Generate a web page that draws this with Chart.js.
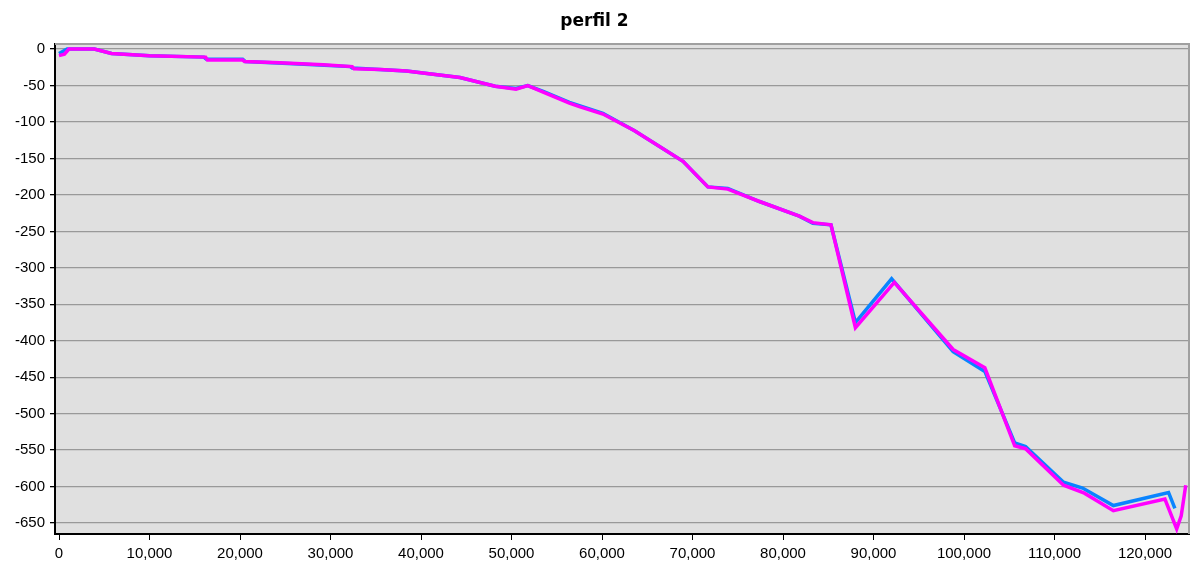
<!DOCTYPE html>
<html>
<head>
<meta charset="utf-8">
<title>perfil 2</title>
<script src="https://cdn.jsdelivr.net/npm/chart.js@4.4.1/dist/chart.umd.min.js"></script>
<style>
  html, body { margin: 0; padding: 0; background: #fff; }
  #wrap { width: 1199px; height: 569px; position: relative; }
</style>
</head>
<body>
<div id="wrap"><canvas id="perfilChart"></canvas></div>
<script>
// distances (m) and depths
const magentaX = [0, 600, 1100, 3900, 5800, 10000, 16200, 16400, 20300, 20500, 24400, 29200, 32400, 32600, 35500, 38400, 44300, 48200, 50500, 51800, 53500, 56400, 57500, 60100, 63600, 68950, 71700, 73900, 77400, 81800, 83300, 85300, 88000, 92300, 98800, 102300, 105600, 106800, 111000, 113300, 116500, 122200, 123500, 124000, 124500];
const magentaY = [-9, -7, 0, 0, -6, -9, -11, -15, -15, -17, -18.7, -21.5, -24, -27, -28, -30, -39, -51, -55, -50, -59, -74, -79, -89, -112, -154, -189, -192, -209, -229, -238, -241, -382, -320, -412, -437, -544, -548, -598, -609, -633, -617, -658, -640, -598];

const blueX = [0, 900, 3900, 5800, 10000, 16000, 16300, 20300, 20600, 26500, 32200, 32400, 38400, 44300, 48200, 50500, 51800, 53500, 56400, 60100, 63600, 68950, 71700, 73900, 77400, 81800, 83300, 85300, 88000, 92000, 98800, 102300, 105600, 106800, 111000, 113100, 116500, 122600, 123300];
const blueY = [-6, 0, 0, -6, -9, -11, -14, -14, -17, -20.5, -24, -26, -30, -39, -51, -54, -50, -58, -73, -88, -112, -154, -189, -191, -209, -229, -239, -241, -375, -315, -415, -442, -540, -545, -594, -602, -626, -608, -630];

const xTicks = [0, 10000, 20000, 30000, 40000, 50000, 60000, 70000, 80000, 90000, 100000, 110000, 120000];
const yTicks = [0, -50, -100, -150, -200, -250, -300, -350, -400, -450, -500, -550, -600, -650];

const toPoints = (xs, ys) => xs.map((x, i) => ({ x: x, y: ys[i] }));

// grey plot background + light frame on top/right
const plotFrame = {
    id: "plotFrame",
    beforeDraw(chart) {
        const { ctx, chartArea: a } = chart;
        ctx.save();
        ctx.fillStyle = "#e0e0e0";
        ctx.fillRect(a.left, a.top, a.right - a.left, a.bottom - a.top);
        ctx.restore();
    },
    beforeDatasetsDraw(chart) {
        const { ctx, chartArea: a } = chart;
        ctx.save();
        ctx.strokeStyle = "#a0a0a0";
        ctx.lineWidth = 2;
        ctx.beginPath();
        ctx.moveTo(a.left, a.top);
        ctx.lineTo(a.right, a.top);
        ctx.lineTo(a.right, a.bottom);
        ctx.stroke();
        ctx.restore();
    }
};

const tickFont = { family: "'Liberation Sans', Arial, sans-serif", size: 15 };

new Chart(document.getElementById("perfilChart"), {
    type: "line",
    data: {
        datasets: [
            {
                label: "perfil 2 (b)",
                data: toPoints(magentaX, magentaY),
                borderColor: "#ff00ff",
                borderWidth: 3.5,
                pointRadius: 0,
                tension: 0
            },
            {
                label: "perfil 2 (a)",
                data: toPoints(blueX, blueY),
                borderColor: "#0a84ff",
                borderWidth: 3.5,
                pointRadius: 0,
                tension: 0
            }
        ]
    },
    options: {
        responsive: true,
        maintainAspectRatio: false,
        animation: false,
        layout: { padding: { left: 0, right: 10, top: 0, bottom: 0 } },
        plugins: {
            legend: { display: false },
            tooltip: { enabled: false },
            title: {
                display: true,
                text: "perfil 2",
                color: "#000",
                font: { family: "'DejaVu Sans', sans-serif", size: 17, weight: "bold" },
                padding: { top: 11, bottom: 12.6 }
            }
        },
        scales: {
            x: {
                type: "linear",
                min: -442,
                max: 124860,
                afterBuildTicks: (scale) => { scale.ticks = xTicks.map(v => ({ value: v })); },
                afterFit: (scale) => { scale.height = 35; },
                grid: { drawOnChartArea: false, drawTicks: true, tickLength: 6, color: "#000", tickColor: "#000" },
                border: { display: true, color: "#000", width: 2 },
                ticks: {
                    color: "#000",
                    font: tickFont,
                    padding: 5,
                    maxRotation: 0,
                    autoSkip: false,
                    callback: (v) => Number(v).toLocaleString("en-US")
                }
            },
            y: {
                type: "linear",
                min: -665,
                max: 7,
                afterBuildTicks: (scale) => { scale.ticks = yTicks.map(v => ({ value: v })); },
                afterFit: (scale) => { scale.width = 55; },
                grid: { color: "#999", lineWidth: 1.3, drawTicks: true, tickLength: 5, tickColor: "#000" },
                border: { display: true, color: "#000", width: 2 },
                ticks: {
                    color: "#000",
                    font: tickFont,
                    padding: 5,
                    autoSkip: false
                }
            }
        }
    },
    plugins: [plotFrame]
});
</script>
</body>
</html>
